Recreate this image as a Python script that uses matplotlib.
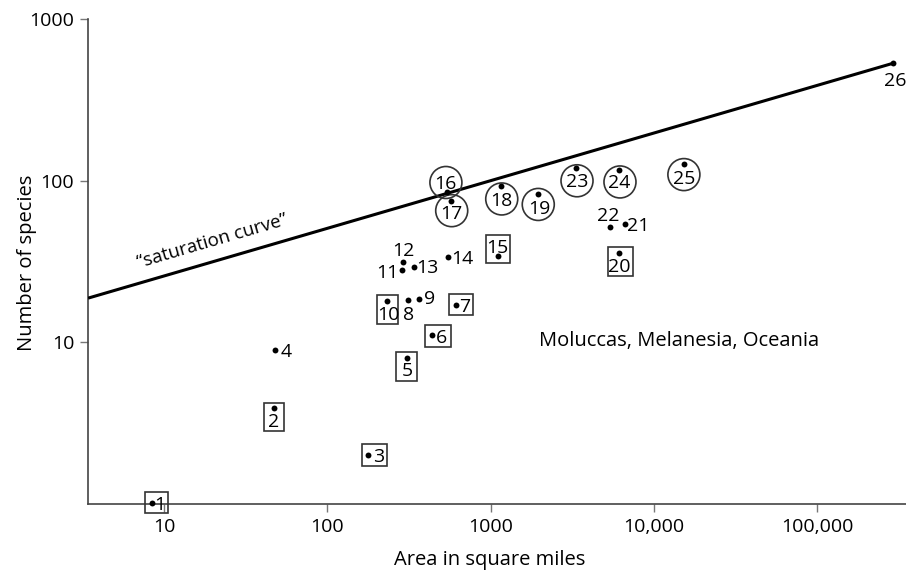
import matplotlib
matplotlib.use("Agg")
import matplotlib.pyplot as plt
from matplotlib.patches import Rectangle, Circle
from matplotlib.transforms import ScaledTranslation
from matplotlib.ticker import NullLocator

plt.rcParams['font.family'] = ['Open Sans', 'DejaVu Sans']

# ---- data ----
labels = list(range(1, 27))
area = [8.5, 47.2, 178, 47.9, 309, 436, 611, 313, 366, 231,
        286, 292, 341, 551, 1104, 538, 570, 1159, 1959, 6110,
        6650, 5380, 3336, 6140, 15270, 292400]
species = [1.02, 3.92, 2.01, 9.0, 7.98, 11.1, 17.1, 18.3, 18.5, 18.1,
           28.1, 31.3, 29.5, 33.7, 34.3, 85.7, 75.4, 93, 83, 35.6,
           54.1, 51.6, 120, 116, 127, 535]
boxed = [1, 2, 3, 5, 6, 7, 10, 15, 20]
circled = [16, 17, 18, 19, 23, 24, 25]
sat_x = [3.43, 292400]
sat_y = [18.8, 535]
xticks = [10, 100, 1000, 10000, 100000]
xticklabels = ['10', '100', '1000', '10,000', '100,000']
yticks = [10, 100, 1000]
yticklabels = ['10', '100', '1000']

# ---- layout (pixel offsets relative to each dot, y downward) ----
text_off = {1: (7.7, 0), 2: (0, 12.4), 3: (10.7, 0), 4: (11, 0), 5: (0, 11),
            6: (10, 1), 7: (9.3, 0), 8: (0, 13), 9: (10, -2), 10: (1.6, 12.3),
            11: (-14, 1), 12: (0, -13), 13: (13, 0), 14: (14, 0), 15: (0, -10),
            16: (-1, -9.4), 17: (1, 11), 18: (0, 13), 19: (1, 12.7), 20: (0, 11.7),
            21: (13.5, 0), 22: (-1.5, -13), 23: (0.7, 11.7), 24: (0, 11),
            25: (0, 12.7), 26: (2, 16)}
box_off = {1: (-7.3, 16, -11, 10.6), 2: (-10.3, 10, -5.6, 22.7),
           3: (-6.6, 19, -10.7, 11), 5: (-11.3, 9.4, -6.6, 22.4),
           6: (-6.7, 19, -10, 11.7), 7: (-6.4, 17.6, -10.7, 10),
           10: (-9.5, 11.6, -6, 23), 15: (-11.7, 12.3, -21, 7.3),
           20: (-10.7, 13.7, -6.6, 22.4)}
circ_off = {16: (-0.7, -9.2), 17: (1, 10), 18: (0.7, 13), 19: (0, 10.5),
            23: (1, 12.7), 24: (0.7, 11.5), 25: (0, 10.5)}
R = 16

W, H = 906, 575
fig = plt.figure(figsize=(W / 100, H / 100), dpi=100)
ax = fig.add_axes([88 / W, 1 - 504 / H, (W - 88) / W, (504 - 19.3) / H])
ax.set_xscale('log')
ax.set_yscale('log')
ax.set_xlim(3.426, 349900)
ax.set_ylim(1.0, 1000)

for s in ['top', 'right']:
    ax.spines[s].set_visible(False)
for s in ['left', 'bottom']:
    ax.spines[s].set_color('#444444')
    ax.spines[s].set_linewidth(1.2)

ax.set_xticks(xticks)
ax.set_xticklabels(xticklabels)
ax.set_yticks(yticks)
ax.set_yticklabels(yticklabels)
ax.xaxis.set_minor_locator(NullLocator())
ax.yaxis.set_minor_locator(NullLocator())
ax.tick_params(direction='out', length=6, width=1, color='#777777',
               labelsize=14, pad=4, labelcolor='black')

# saturation line
ax.plot(sat_x, sat_y, color='black', lw=2.2, solid_capstyle='butt', zorder=3)

# dots
ax.scatter(area, species, s=18, color='black', zorder=5, clip_on=False, linewidths=0)

FS = 14
for lab, x, y in zip(labels, area, species):
    dx, dy = text_off[lab]
    ax.annotate(str(lab), (x, y), xytext=(dx, -(dy + 6.9)), textcoords='offset pixels',
                ha='center', va='baseline', fontsize=FS, zorder=6, annotation_clip=False)
    trans = fig.dpi_scale_trans + ScaledTranslation(x, y, ax.transData)
    if lab in box_off:
        l, r, t, b = box_off[lab]
        rect = Rectangle((l / 100, -b / 100), (r - l) / 100, (b - t) / 100,
                         transform=trans, fill=False, edgecolor='#333333',
                         linewidth=1.2, clip_on=False, zorder=4)
        ax.add_patch(rect)
    if lab in circ_off:
        cx, cy = circ_off[lab]
        c = Circle((cx / 100, -cy / 100), R / 100, transform=trans, fill=False,
                   edgecolor='#333333', linewidth=1.2, clip_on=False, zorder=4)
        ax.add_patch(c)

ax.text(19.7, 42.5, '\u201csaturation curve\u201d', rotation=16.3, rotation_mode='anchor',
        ha='center', va='center', fontsize=13.5)
ax.text(14260, 10.2, 'Moluccas, Melanesia, Oceania', ha='center', va='center', fontsize=14.5)

ax.set_xlabel('Area in square miles', fontsize=14.5)
ax.xaxis.label.set_va('center')
ax.xaxis.set_label_coords((490 - 88) / (W - 88), -(560 - 504) / (504 - 19.3))
ax.set_ylabel('Number of species', fontsize=14.5)
ax.yaxis.label.set_va('center')
ax.yaxis.set_label_coords((27 - 88) / (W - 88), (504 - 263) / (504 - 19.3))

fig.savefig('out.png', dpi=100)
